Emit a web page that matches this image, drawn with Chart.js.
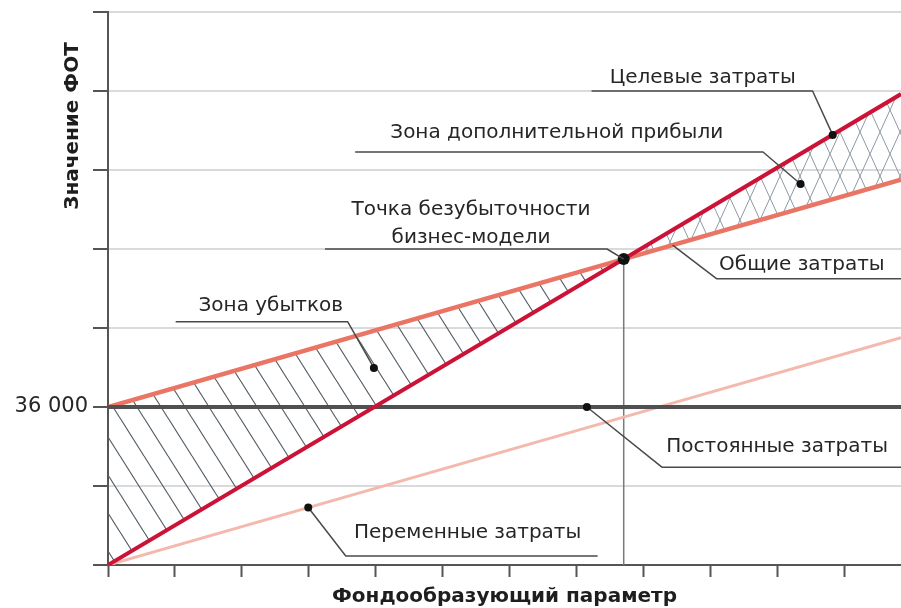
<!DOCTYPE html>
<html>
<head>
<meta charset="utf-8">
<script src="https://cdn.jsdelivr.net/npm/chart.js@4.4.0/dist/chart.umd.min.js"></script>
<style>
  html, body { margin: 0; padding: 0; background: #fff; overflow: hidden; }
  #wrap { width: 901px; height: 608px; }
</style>
</head>
<body>
<div id="wrap"><canvas id="c"></canvas></div>
<script>
// Fund-forming parameter (x) and cost values (y)
const xPoints       = [0, 7.7, 11.84];
const targetCosts   = [0, 69700, 107300];
const totalCosts    = [36000, 69700, 87800];
const fixedCosts    = [36000, 36000, 36000];
const variableCosts = [0, 33700, 51800];
const breakEven     = { x: 7.7, y: 69700 };

// Y tick labels, one per 18 000 step from 0 to 126 000
const yTickLabels = ['', '', '36 000', '', '', '', '', ''];

// Callouts: text, text centre, leader polyline, optional dot at the end
const notes = [
  { text: ['Целевые затраты'], at: [8.88, 111100],
    path: [[7.22, 108000], [10.52, 108000], [10.82, 98000]], dot: true },
  { text: ['Зона дополнительной прибыли'], at: [6.70, 98400],
    path: [[3.69, 94100], [9.78, 94100], [10.34, 86800]], dot: true },
  { text: ['Точка безубыточности', 'бизнес-модели'], at: [5.42, 77700],
    path: [[3.24, 72000], [7.45, 72000], [breakEven.x, breakEven.y]], dot: false },
  { text: ['Общие затраты'], at: [10.36, 68350],
    path: [[11.84, 65200], [9.09, 65200], [8.43, 72900]], dot: false },
  { text: ['Зона убытков'], at: [2.43, 59000],
    path: [[1.01, 55400], [3.58, 55400], [3.97, 44900]], dot: true },
  { text: ['Постоянные затраты'], at: [9.99, 26900],
    path: [[11.84, 22300], [8.27, 22300], [7.15, 36000]], dot: true },
  { text: ['Переменные затраты'], at: [5.37, 7300],
    path: [[7.31, 2050], [3.55, 2050], [2.99, 13100]], dot: true }
];

const xTitle = 'Фондообразующий параметр';
const yTitle = 'Значение ФОТ';

const FONT = '"DejaVu Sans", sans-serif';

function hatch(w, h, color, width, both) {
  const c = document.createElement('canvas');
  c.width = w; c.height = h;
  const g = c.getContext('2d');
  g.strokeStyle = color;
  g.lineWidth = width;
  g.beginPath();
  for (const o of [-w, 0, w]) { g.moveTo(o, 0); g.lineTo(o + w, h); }
  if (both) for (const o of [-w, 0, w]) { g.moveTo(o + w, 0); g.lineTo(o, h); }
  g.stroke();
  return g.createPattern(c, 'repeat');
}

const lossPattern   = hatch(24, 38, '#56606a', 1.2, false);
const profitPattern = hatch(20, 44, '#8e99a3', 1.0, true);

const pts = ys => xPoints.map((x, i) => ({ x, y: ys[i] }));

const callouts = {
  id: 'callouts',
  afterDatasetsDraw(chart) {
    const { ctx, scales: { x, y } } = chart;
    ctx.save();
    for (const n of notes) {
      ctx.strokeStyle = '#4a4a4a';
      ctx.lineWidth = 1.5;
      ctx.lineJoin = 'round';
      ctx.beginPath();
      n.path.forEach(([px, py], i) => {
        const X = x.getPixelForValue(px), Y = y.getPixelForValue(py);
        i ? ctx.lineTo(X, Y) : ctx.moveTo(X, Y);
      });
      ctx.stroke();
      if (n.dot) {
        const [dx, dy] = n.path[n.path.length - 1];
        ctx.fillStyle = '#111';
        ctx.beginPath();
        ctx.arc(x.getPixelForValue(dx), y.getPixelForValue(dy), 4, 0, Math.PI * 2);
        ctx.fill();
      }
      ctx.fillStyle = '#262626';
      ctx.font = '20px ' + FONT;
      ctx.textAlign = 'center';
      ctx.textBaseline = 'middle';
      const cx = x.getPixelForValue(n.at[0]);
      const cy = y.getPixelForValue(n.at[1]);
      const lh = 28;
      n.text.forEach((t, i) => {
        ctx.fillText(t, cx, cy + (i - (n.text.length - 1) / 2) * lh);
      });
    }
    ctx.restore();
  },
  afterDraw(chart) {
    const { ctx, chartArea } = chart;
    ctx.save();
    ctx.fillStyle = '#1e1e1e';
    ctx.font = '700 20px ' + FONT;
    ctx.textAlign = 'center';
    ctx.textBaseline = 'middle';
    ctx.fillText(xTitle, (chartArea.left + chartArea.right) / 2, 597);
    ctx.translate(73, 126);
    ctx.rotate(-Math.PI / 2);
    ctx.fillText(yTitle, 0, 0);
    ctx.restore();
  }
};

new Chart(document.getElementById('c'), {
  type: 'line',
  data: {
    datasets: [
      { label: 'Целевые затраты', data: pts(targetCosts), borderColor: '#cc1236',
        borderWidth: 4, pointRadius: 0, fill: false, order: 1 },
      { label: 'Общие затраты', data: pts(totalCosts), borderColor: '#ea7565',
        borderWidth: 4.5, pointRadius: 0, order: 3,
        fill: { target: 0, above: lossPattern, below: profitPattern } },
      { label: 'Постоянные затраты', data: pts(fixedCosts), borderColor: '#505050',
        borderWidth: 4, pointRadius: 0, fill: false, order: 2 },
      { label: 'Переменные затраты', data: pts(variableCosts), borderColor: '#f4b8ad',
        borderWidth: 3, pointRadius: 0, fill: false, order: 4 },
      { label: 'break-even drop', data: [{ x: breakEven.x, y: breakEven.y }, { x: breakEven.x, y: 0 }],
        borderColor: '#7a7a7a', borderWidth: 1.5, pointRadius: 0, fill: false, order: 5 },
      { label: 'Точка безубыточности', data: [breakEven], showLine: false,
        pointRadius: 6, pointBackgroundColor: '#111', pointBorderWidth: 0, order: 0 }
    ]
  },
  options: {
    responsive: true,
    maintainAspectRatio: false,
    devicePixelRatio: 1,
    animation: false,
    layout: { autoPadding: false, padding: { top: 12, right: 0, bottom: 0, left: 0 } },
    plugins: { legend: { display: false }, tooltip: { enabled: false } },
    scales: {
      x: {
        type: 'linear', min: 0, max: 11.84,
        ticks: { display: false, stepSize: 1 },
        afterBuildTicks: s => { s.ticks = s.ticks.filter(t => Number.isInteger(t.value)); },
        afterFit: s => { s.height = 43; s.paddingLeft = 0; s.paddingRight = 0; },
        grid: { drawOnChartArea: false, drawTicks: true, tickLength: 12,
                tickColor: '#555', tickWidth: 2 },
        border: { display: true, color: '#555', width: 2 }
      },
      y: {
        type: 'linear', min: 0, max: 126000,
        ticks: { stepSize: 18000, padding: 5, color: '#262626',
                 font: { family: 'DejaVu Sans', size: 21 },
                 callback: (v, i) => yTickLabels[i] },
        afterFit: s => { s.width = 108; s.paddingTop = 0; s.paddingBottom = 0; },
        grid: { color: '#dadada', lineWidth: 2, drawTicks: true, tickLength: 15,
                tickColor: '#555', tickWidth: 2 },
        border: { display: true, color: '#555', width: 2 }
      }
    }
  },
  plugins: [callouts]
});
</script>
</body>
</html>
